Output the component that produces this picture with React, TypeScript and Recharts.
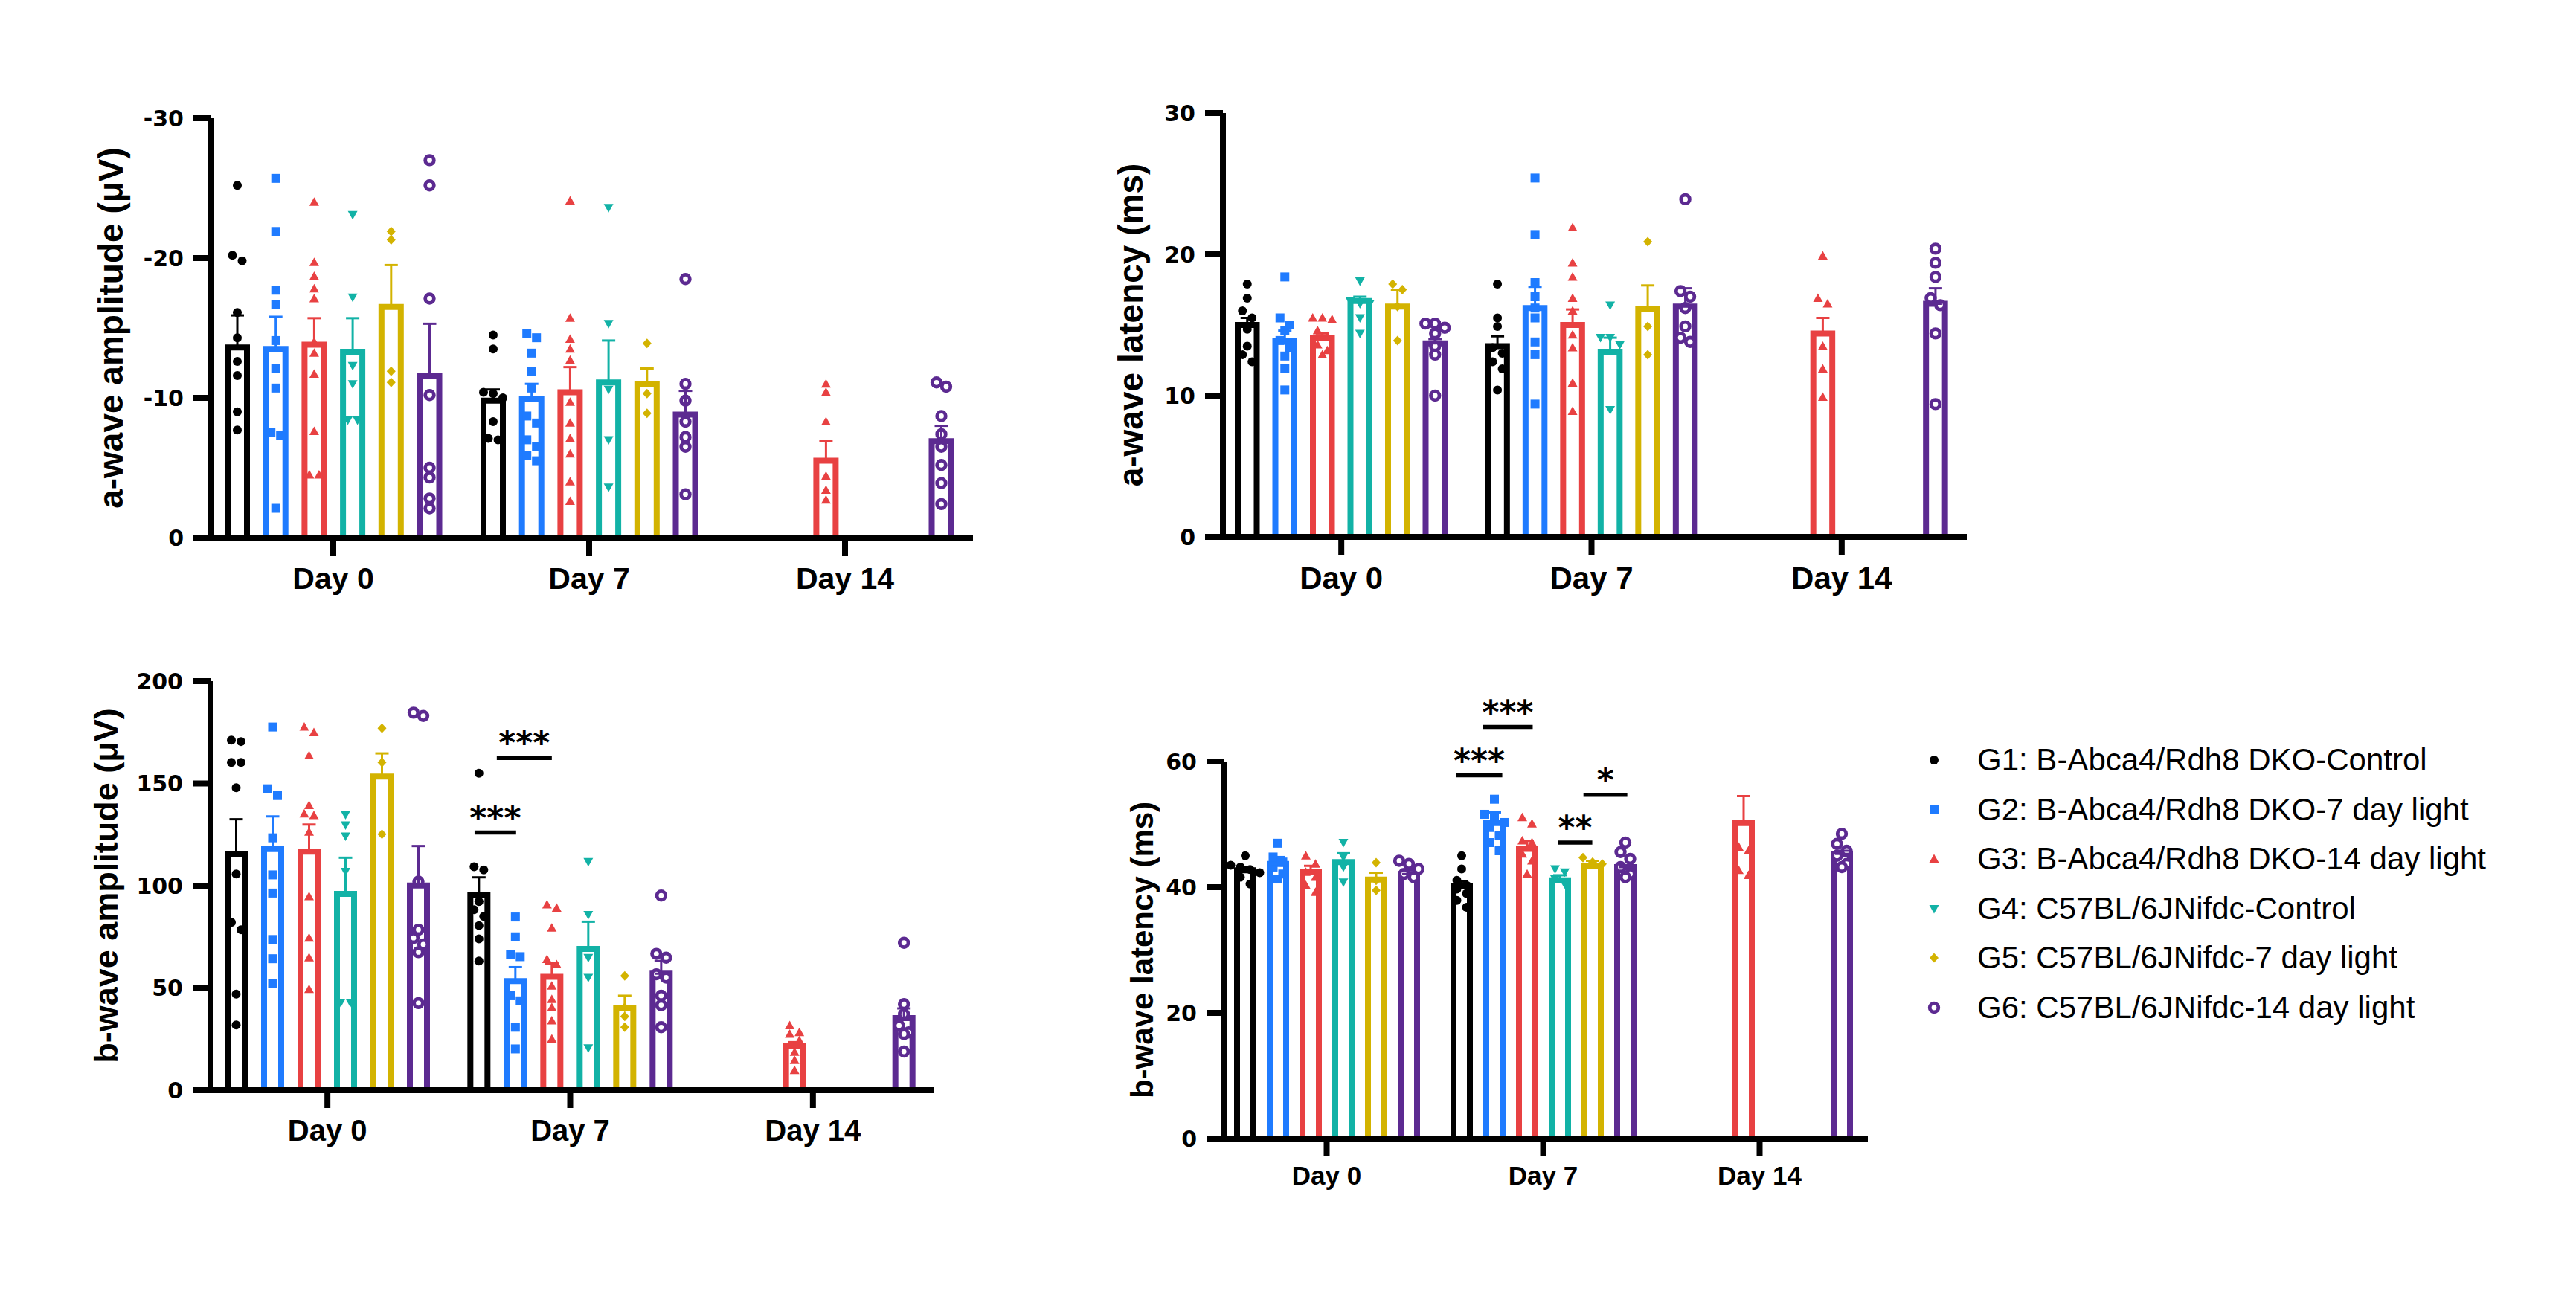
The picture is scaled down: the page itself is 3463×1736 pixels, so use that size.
import React from 'react';
import { BarChart, Bar, XAxis, YAxis, ErrorBar } from 'recharts';

const ARIAL = '"Liberation Sans", Arial, Helvetica, sans-serif';
const DEJAVU = '"DejaVu Sans", "Liberation Sans", sans-serif';

// ---------- shared categories / groups ----------
const days = ['Day 0', 'Day 7', 'Day 14'];
const groupNames = [
  'G1: B-Abca4/Rdh8 DKO-Control',
  'G2: B-Abca4/Rdh8 DKO-7 day light',
  'G3: B-Abca4/Rdh8 DKO-14 day light',
  'G4: C57BL/6JNifdc-Control',
  'G5: C57BL/6JNifdc-7 day light',
  'G6: C57BL/6JNifdc-14 day light',
];
const groupColors = ['#000000', '#1F7BFF', '#E84142', '#12B2A6', '#D3B300', '#5C2A91'];

// ---------- a-wave amplitude (µV) ----------
const aAmpTicks = [0, -10, -20, -30];
const aAmpMeans = [
  [-13.6, -9.8, null],
  [-13.5, -9.9, null],
  [-13.8, -10.4, -5.5],
  [-13.3, -11.1, null],
  [-16.5, -11.0, null],
  [-11.6, -8.8, -6.9],
];
const aAmpSems = [
  [2.3, 0.8, null],
  [2.3, 1.1, null],
  [1.9, 1.8, 1.4],
  [2.4, 3.0, null],
  [3.0, 1.1, null],
  [3.7, 1.7, 1.1],
];
const aAmpPoints = [
  [[-25.2, -20.2, -19.8, -16.1, -14.3, -12.6, -11.6, -9.0, -7.7], [-14.5, -13.5, -10.4, -10.3, -10.0, -8.3, -7.1, -7.0], []],
  [[-25.7, -21.9, -17.7, -16.7, -14.1, -12.1, -10.7, -7.5, -7.3, -2.1], [-14.6, -14.3, -13.2, -11.9, -10.7, -8.7, -8.2, -7.0, -6.5, -5.9, -5.5], []],
  [[-24.0, -19.7, -18.7, -17.8, -17.1, -14.0, -13.2, -11.7, -7.6, -4.5, -4.5], [-24.1, -15.7, -14.2, -13.5, -12.7, -9.7, -8.2, -7.1, -6.0, -4.0, -2.6], [-11.0, -10.4, -8.3, -4.4, -3.4, -2.7]],
  [[-23.1, -17.2, -12.3, -11.0, -8.4, -8.4], [-23.6, -15.3, -10.6, -7.0, -3.6], []],
  [[-21.9, -21.3, -11.9, -11.1], [-13.9, -10.3, -8.9], []],
  [[-27.0, -25.2, -17.1, -10.2, -5.0, -4.3, -2.8, -2.1], [-18.5, -11.0, -9.8, -8.3, -7.2, -6.5, -3.1], [-11.1, -10.8, -8.7, -7.4, -6.5, -5.2, -3.9, -2.4]],
];

// ---------- a-wave latency (ms) ----------
const aLatTicks = [0, 10, 20, 30];
const aLatMeans = [
  [15.0, 13.5, null],
  [13.9, 16.2, null],
  [14.1, 15.0, 14.4],
  [16.7, 13.1, null],
  [16.3, 16.1, null],
  [13.7, 16.3, 16.5],
];
const aLatSems = [
  [0.5, 0.7, null],
  [0.7, 1.5, null],
  [0.3, 1.1, 1.1],
  [0.3, 1.0, null],
  [1.2, 1.7, null],
  [0.3, 1.3, 1.1],
];
const aLatPoints = [
  [[17.9, 16.9, 16.0, 15.5, 14.7, 13.5, 12.9, 12.4], [17.9, 15.5, 14.9, 13.4, 13.0, 12.4, 11.9, 10.4], []],
  [[18.4, 15.5, 15.0, 14.6, 13.9, 13.4, 12.8, 11.9, 10.4], [25.4, 21.4, 18.0, 17.0, 16.2, 15.5, 13.8, 12.9, 9.4], []],
  [[15.5, 15.5, 15.4, 14.6, 14.2, 13.6, 13.2, 12.9], [21.9, 19.4, 18.4, 16.9, 16.0, 14.3, 13.4, 10.9, 8.9], [19.9, 16.9, 16.5, 13.5, 11.9, 9.9]],
  [[18.1, 16.7, 16.5, 16.5, 15.5, 14.4], [16.4, 14.1, 14.1, 13.6, 9.0], []],
  [[17.9, 17.5, 16.3, 13.9], [20.9, 14.9, 12.9], []],
  [[15.1, 15.1, 14.8, 14.4, 13.5, 12.9, 10.0], [23.9, 17.4, 17.0, 16.2, 14.9, 14.1, 13.8], [20.4, 19.4, 18.4, 16.9, 16.4, 14.4, 9.4]],
];

// ---------- b-wave amplitude (µV) ----------
const bAmpTicks = [0, 50, 100, 150, 200];
const bAmpMeans = [
  [115.3, 95.5, null],
  [117.9, 53.4, null],
  [116.6, 55.5, 21.5],
  [96.0, 69.1, null],
  [153.4, 40.2, null],
  [100.1, 57.0, 35.3],
];
const bAmpSems = [
  [17.2, 8.6, null],
  [16.0, 6.8, null],
  [13.3, 6.5, 2.0],
  [17.7, 13.3, null],
  [11.3, 6.0, null],
  [19.3, 6.2, 4.7],
];
const bAmpPoints = [
  [[171.2, 170.5, 160.3, 160.3, 147.9, 105.7, 82.1, 78.5, 47.0, 31.9], [155.0, 109.3, 107.7, 92.3, 88.3, 85.0, 80.5, 74.0, 63.2], []],
  [[177.6, 147.4, 144.1, 123.4, 105.3, 96.4, 73.7, 64.3, 52.3], [84.7, 75.0, 66.4, 65.3, 46.2, 43.7, 30.8, 20.2], []],
  [[177.6, 174.9, 163.6, 139.3, 135.2, 134.4, 126.3, 94.7, 74.5, 64.8, 49.4], [90.7, 89.1, 79.4, 64.0, 61.5, 51.0, 44.5, 40.5, 34.0, 25.1], [31.6, 28.3, 27.5, 24.3, 18.6, 14.6, 9.7]],
  [[134.7, 129.6, 124.2, 106.9, 42.9, 42.9], [111.7, 85.8, 64.8, 55.1, 20.6], []],
  [[177.0, 160.3, 125.2], [55.9, 40.5, 36.1, 30.8], []],
  [[184.6, 183.0, 102.0, 78.5, 74.5, 71.3, 67.5, 42.6], [95.2, 66.7, 64.8, 56.7, 55.1, 46.2, 41.6, 30.8], [72.1, 42.1, 37.2, 31.6, 28.3, 27.5, 18.9]],
];
const bAmpSignif = [
  { day: 'Day 7', from: -0.12, to: 1.02, value: 126, text: '***' },
  { day: 'Day 7', from: 0.49, to: 2.0, value: 162.5, text: '***' },
];

// ---------- b-wave latency (ms) ----------
const bLatTicks = [0, 20, 40, 60];
const bLatMeans = [
  [42.7, 40.2, null],
  [43.7, 50.2, null],
  [42.4, 46.1, 50.2],
  [44.0, 41.1, null],
  [41.2, 43.4, null],
  [42.1, 43.2, 45.3],
];
const bLatSems = [
  [0.5, 0.7, null],
  [1.1, 1.7, null],
  [1.0, 1.3, 4.3],
  [1.4, 0.8, null],
  [1.1, 0.8, null],
  [0.6, 0.3, 0.5],
];
const bLatPoints = [
  [[45.0, 43.5, 43.2, 42.8, 42.3, 41.6, 40.5], [45.0, 42.9, 41.1, 40.3, 39.7, 39.0, 37.9, 36.8], []],
  [[47.0, 44.8, 44.0, 43.2, 42.1, 41.3], [54.0, 51.6, 51.1, 50.3, 49.5, 48.2, 47.1, 45.8], []],
  [[45.0, 43.7, 42.4, 41.6, 40.3, 39.2], [51.1, 50.1, 47.4, 47.1, 45.3, 44.2, 42.1], [46.4, 45.8, 42.7, 41.9]],
  [[47.1, 44.8, 43.2, 40.8], [42.9, 42.4, 41.3, 40.5], []],
  [[43.9, 41.1, 39.5], [44.7, 44.0, 43.7], []],
  [[44.2, 43.7, 42.9, 42.1, 41.6], [47.1, 45.6, 44.5, 43.2, 42.1, 41.6], [48.5, 46.9, 45.8, 45.0, 43.7, 43.2]],
];
const bLatSignif = [
  { day: 'Day 7', from: -0.17, to: 1.24, value: 57.8, text: '***' },
  { day: 'Day 7', from: 0.65, to: 2.17, value: 65.5, text: '***' },
  { day: 'Day 7', from: 2.94, to: 3.99, value: 47.1, text: '**' },
  { day: 'Day 7', from: 3.72, to: 5.06, value: 54.7, text: '*' },
];

// ---------- layout / style configs ----------
type Signif = { day: string; from: number; to: number; value: number; text: string };
type PanelCfg = {
  label: string;
  ticks: number[];
  domain: [number, number];
  reversed: boolean;
  means: (number | null)[][];
  sems: (number | null)[][];
  points: number[][][];
  signif: Signif[];
  left: number;
  top: number;
  width: number;
  height: number;
  marginTop: number;
  xHeight: number;
  yWidth: number;
  padLeft: number;
  xFont: number;
  xTickMargin: number;
  labelFont: number;
  barSize: number;
  barGap: number;
};

const AXIS_STROKE = 8;
const BAR_STROKE = 8;

const panels: PanelCfg[] = [
  {
    label: 'a-wave amplitude (μV)', ticks: aAmpTicks, domain: [-30, 0], reversed: true,
    means: aAmpMeans, sems: aAmpSems, points: aAmpPoints, signif: [],
    left: 14, top: 119, width: 1304, height: 714, marginTop: 40, xHeight: 110, yWidth: 270, padLeft: -8,
    xFont: 41, xTickMargin: 16, labelFont: 46, barSize: 26, barGap: 25.7,
  },
  {
    label: 'a-wave latency (ms)', ticks: aLatTicks, domain: [0, 30], reversed: false,
    means: aLatMeans, sems: aLatSems, points: aLatPoints, signif: [],
    left: 1396, top: 112, width: 1258, height: 720, marginTop: 40, xHeight: 110, yWidth: 248, padLeft: -9,
    xFont: 42, xTickMargin: 16, labelFont: 46, barSize: 25.5, barGap: 25,
  },
  {
    label: 'b-wave amplitude (μV)', ticks: bAmpTicks, domain: [0, 200], reversed: false,
    means: bAmpMeans, sems: bAmpSems, points: bAmpPoints, signif: bAmpSignif,
    left: 1, top: 876, width: 1265, height: 700, marginTop: 40, xHeight: 110, yWidth: 282, padLeft: -6,
    xFont: 40, xTickMargin: 16, labelFont: 45, barSize: 23, barGap: 26,
  },
  {
    label: 'b-wave latency (ms)', ticks: bLatTicks, domain: [0, 60], reversed: false,
    means: bLatMeans, sems: bLatSems, points: bLatPoints, signif: bLatSignif,
    left: 1424, top: 914, width: 1097, height: 717, marginTop: 110, xHeight: 100, yWidth: 222, padLeft: -8,
    xFont: 35, xTickMargin: 13, labelFont: 42, barSize: 22, barGap: 22,
  },
];

// ---------- helpers ----------
function Marker({ gi, cx, cy, color }: { gi: number; cx: number; cy: number; color: string }) {
  switch (gi) {
    case 0:
      return <circle cx={cx} cy={cy} r={6} fill={color} />;
    case 1:
      return <rect x={cx - 6} y={cy - 6} width={12} height={12} fill={color} />;
    case 2:
      return <polygon points={`${cx},${cy - 6.5} ${cx + 6.5},${cy + 5} ${cx - 6.5},${cy + 5}`} fill={color} />;
    case 3:
      return <polygon points={`${cx - 6.5},${cy - 5} ${cx + 6.5},${cy - 5} ${cx},${cy + 6.5}`} fill={color} />;
    case 4:
      return <polygon points={`${cx},${cy - 6.5} ${cx + 6},${cy} ${cx},${cy + 6.5} ${cx - 6},${cy}`} fill={color} />;
    default:
      return <circle cx={cx} cy={cy} r={5.8} fill="#fff" stroke={color} strokeWidth={4.8} />;
  }
}

// spread points that would overlap into centred rows
function swarm(pys: number[], thresh: number, dx: number): number[] {
  const order = pys.map((_, i) => i).sort((a, b) => pys[a] - pys[b]);
  const offs = new Array(pys.length).fill(0);
  let row: number[] = [];
  const flush = () => {
    row.forEach((k, j) => {
      offs[k] = (j - (row.length - 1) / 2) * dx;
    });
    row = [];
  };
  for (const k of order) {
    if (row.length && pys[k] - pys[row[0]] >= thresh) flush();
    row.push(k);
  }
  flush();
  return offs;
}

function buildRows(p: PanelCfg) {
  return days.map((day, di) => {
    const row: Record<string, any> = { day };
    p.means.forEach((m, gi) => {
      row[`g${gi}`] = m[di];
      const s = p.sems[gi][di];
      row[`e${gi}`] = s == null ? null : p.reversed ? [s, 0] : [0, s];
    });
    return row;
  });
}

function makeBarShape(p: PanelCfg, gi: number) {
  const color = groupColors[gi];
  return (props: any) => {
    const { x, y, width, height, payload } = props;
    const v = payload ? payload[`g${gi}`] : null;
    if (v == null || v === 0 || !isFinite(x) || !isFinite(y) || !isFinite(height) || height === 0) return <g />;
    const di = days.indexOf(payload.day);
    // linear map value -> pixel taken from the bar the library placed (0 at base, v at y)
    const toPx = (t: number) => y + height - (height * t) / v;
    const base = Math.max(y, y + height);
    const top = Math.min(y, y + height);
    const bottom = base - AXIS_STROKE / 2;
    const xl = x;
    const xr = x + width;
    const d = `M${xl},${bottom} L${xl},${top} L${xr},${top} L${xr},${bottom}`;
    const cx = x + width / 2;
    const pts = (p.points[gi] && p.points[gi][di]) || [];
    const pys = pts.map(toPx);
    const offs = swarm(pys, 11, 13);
    const step = p.barSize + p.barGap;
    const anns = gi === groupColors.length - 1 ? p.signif.filter((a) => a.day === payload.day) : [];
    return (
      <g>
        <path d={d} fill="#ffffff" stroke={color} strokeWidth={BAR_STROKE} strokeLinejoin="miter" />
        {pts.map((_, k) => (
          <Marker key={k} gi={gi} cx={cx + offs[k]} cy={pys[k]} color={color} />
        ))}
        {anns.map((a, k) => {
          const x1 = cx + (a.from - gi) * step;
          const x2 = cx + (a.to - gi) * step;
          const ly = toPx(a.value);
          return (
            <g key={`s${k}`}>
              <line x1={x1} y1={ly} x2={x2} y2={ly} stroke="#000" strokeWidth={5.5} />
              <text
                x={(x1 + x2) / 2}
                y={ly - 5}
                textAnchor="middle"
                fontFamily={DEJAVU}
                fontWeight={700}
                fontSize={44}
                fill="#000"
              >
                {a.text}
              </text>
            </g>
          );
        })}
      </g>
    );
  };
}

function Panel({ p }: { p: PanelCfg }) {
  const data = buildRows(p);
  const axisLine = { stroke: '#000', strokeWidth: AXIS_STROKE };
  return (
    <div style={{ position: 'absolute', left: p.left, top: p.top }}>
      <BarChart
        width={p.width}
        height={p.height}
        data={data}
        margin={{ top: p.marginTop, right: 10, bottom: 0, left: 0 }}
        barGap={p.barGap}
        barCategoryGap={0}
      >
        <XAxis
          dataKey="day"
          type="category"
          height={p.xHeight}
          padding={{ left: p.padLeft, right: 0 }}
          interval={0}
          tickSize={24}
          tickMargin={p.xTickMargin}
          axisLine={axisLine}
          tickLine={axisLine}
          tick={{ fill: '#000', fontSize: p.xFont, fontWeight: 700, fontFamily: ARIAL }}
        />
        <YAxis
          type="number"
          domain={p.domain}
          ticks={p.ticks}
          reversed={p.reversed}
          interval={0}
          width={p.yWidth}
          tickSize={24}
          tickMargin={13}
          axisLine={axisLine}
          tickLine={axisLine}
          tick={{ fill: '#000', fontSize: 30, fontWeight: 700, fontFamily: DEJAVU }}
          label={{
            value: p.label,
            angle: -90,
            position: 'center',
            fill: '#000',
            fontSize: p.labelFont,
            fontWeight: 700,
            fontFamily: ARIAL,
          }}
        />
        {groupColors.map((c, gi) => (
          <Bar
            key={gi}
            dataKey={`g${gi}`}
            name={groupNames[gi]}
            barSize={p.barSize}
            fill="#ffffff"
            stroke={c}
            isAnimationActive={false}
            shape={makeBarShape(p, gi)}
          >
            <ErrorBar
              dataKey={`e${gi}`}
              direction="y"
              width={9}
              strokeWidth={3}
              stroke={c}
              isAnimationActive={false}
            />
          </Bar>
        ))}
      </BarChart>
    </div>
  );
}

function LegendBlock() {
  return (
    <div style={{ position: 'absolute', left: 2580, top: 989 }}>
      {groupNames.map((n, gi) => (
        <div
          key={gi}
          style={{
            position: 'absolute',
            left: 0,
            top: gi * 66.5,
            height: 66,
            display: 'flex',
            alignItems: 'center',
            whiteSpace: 'nowrap',
          }}
        >
          <svg width={40} height={40} style={{ display: 'block' }}>
            <Marker gi={gi} cx={20} cy={20} color={groupColors[gi]} />
          </svg>
          <span style={{ marginLeft: 38, fontFamily: ARIAL, fontSize: 42, color: '#000', lineHeight: 1 }}>{n}</span>
        </div>
      ))}
    </div>
  );
}

export default function App() {
  return (
    <div style={{ position: 'absolute', left: 0, top: 0, width: 3463, height: 1736, background: '#fff', overflow: 'hidden' }}>
      {panels.map((p, i) => (
        <Panel key={i} p={p} />
      ))}
      <LegendBlock />
    </div>
  );
}
